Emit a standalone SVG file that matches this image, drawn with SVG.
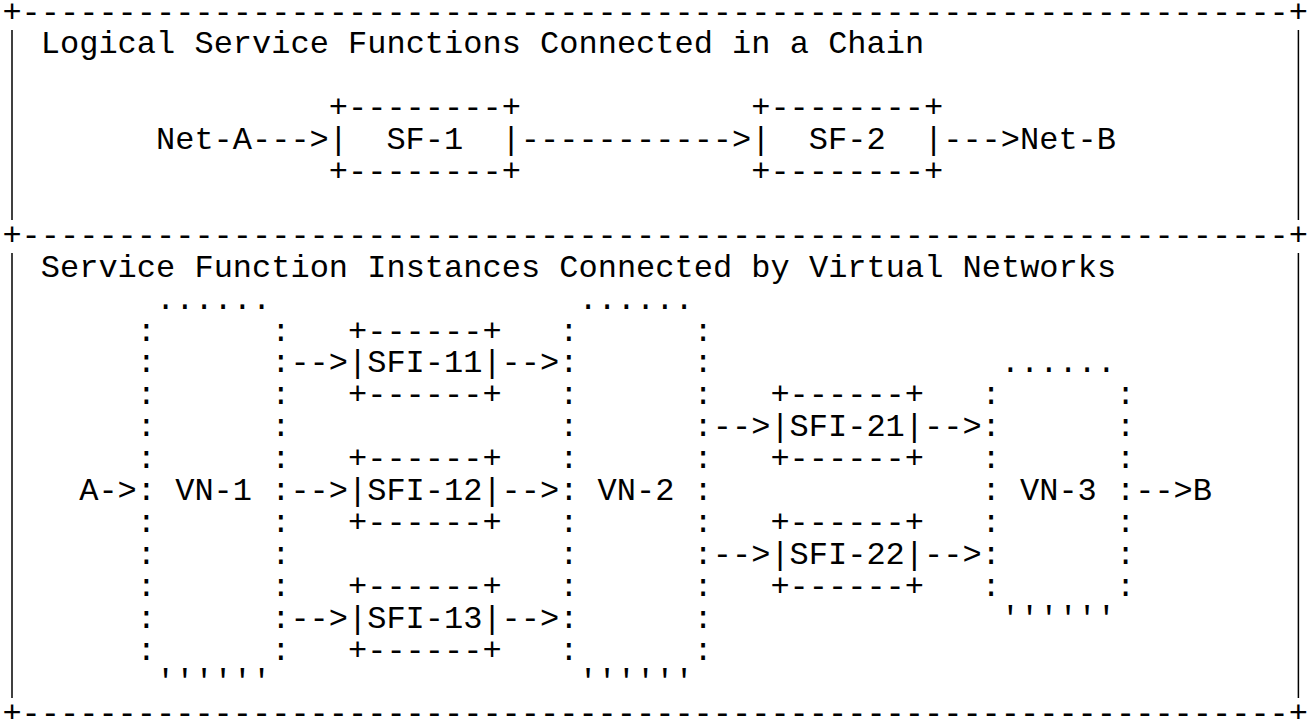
<svg xmlns="http://www.w3.org/2000/svg" width="1307" height="719" viewBox="0 0 1307 719">
<style>
.t{font-family:"Courier New",Courier,"Nimbus Mono PS","FreeMono","Liberation Mono",monospace;font-size:32px;fill:#000}
.edge{stroke:#000;stroke-width:1.5;fill:none}
</style>
<rect width="1307" height="719" fill="#fff"/>
<g id="frame">
<text class="t" x="2.4" y="21.5">+</text>
<text class="t" x="21.6" y="21.5" textLength="1267.2" lengthAdjust="spacing">------------------------------------------------------------------</text>
<text class="t" x="1288.8" y="21.5">+</text>
<text class="t" x="2.4" y="244.8">+</text>
<text class="t" x="21.6" y="244.8" textLength="1267.2" lengthAdjust="spacing">------------------------------------------------------------------</text>
<text class="t" x="1288.8" y="244.8">+</text>
<text class="t" x="2.4" y="723.3">+</text>
<text class="t" x="21.6" y="723.3" textLength="1267.2" lengthAdjust="spacing">------------------------------------------------------------------</text>
<text class="t" x="1288.8" y="723.3">+</text>
<line class="edge" x1="12" y1="30" x2="12" y2="220"/>
<line class="edge" x1="1298.4" y1="30" x2="1298.4" y2="220"/>
<line class="edge" x1="12" y1="253" x2="12" y2="698"/>
<line class="edge" x1="1298.4" y1="253" x2="1298.4" y2="698"/>
<text class="t" x="40.8" y="53.4">Logical Service Functions Connected in a Chain</text>
<text class="t" x="40.8" y="276.7">Service Function Instances Connected by Virtual Networks</text>
</g>
<g id="endpoints">
<text class="t" x="156" y="149.1">Net-A</text>
<text class="t" x="1020" y="149.1">Net-B</text>
<text class="t" x="79.2" y="500">A</text>
<text class="t" x="1192.8" y="500">B</text>
</g>
<g id="sf1">
<text class="t" x="328.8" y="117.2">+--------+</text>
<text class="t" x="328.8" y="149.1">|</text>
<text class="t" x="386.4" y="149.1">SF-1</text>
<text class="t" x="501.6" y="149.1">|</text>
<text class="t" x="328.8" y="181">+--------+</text>
</g>
<g id="sf2">
<text class="t" x="751.2" y="117.2">+--------+</text>
<text class="t" x="751.2" y="149.1">|</text>
<text class="t" x="808.8" y="149.1">SF-2</text>
<text class="t" x="924" y="149.1">|</text>
<text class="t" x="751.2" y="181">+--------+</text>
</g>
<g id="vn1">
<text class="t" x="156" y="308.6">......</text>
<text class="t"><tspan x="136.8" y="340.5">:</tspan><tspan x="136.8" y="372.4">:</tspan><tspan x="136.8" y="404.3">:</tspan><tspan x="136.8" y="436.2">:</tspan><tspan x="136.8" y="468.1">:</tspan><tspan x="136.8" y="500">:</tspan><tspan x="136.8" y="531.9">:</tspan><tspan x="136.8" y="563.8">:</tspan><tspan x="136.8" y="595.7">:</tspan><tspan x="136.8" y="627.6">:</tspan><tspan x="136.8" y="659.5">:</tspan></text>
<text class="t"><tspan x="271.2" y="340.5">:</tspan><tspan x="271.2" y="372.4">:</tspan><tspan x="271.2" y="404.3">:</tspan><tspan x="271.2" y="436.2">:</tspan><tspan x="271.2" y="468.1">:</tspan><tspan x="271.2" y="500">:</tspan><tspan x="271.2" y="531.9">:</tspan><tspan x="271.2" y="563.8">:</tspan><tspan x="271.2" y="595.7">:</tspan><tspan x="271.2" y="627.6">:</tspan><tspan x="271.2" y="659.5">:</tspan></text>
<text class="t" x="175.2" y="500">VN-1</text>
<text class="t" x="156" y="691.4">''''''</text>
</g>
<g id="vn2">
<text class="t" x="578.4" y="308.6">......</text>
<text class="t"><tspan x="559.2" y="340.5">:</tspan><tspan x="559.2" y="372.4">:</tspan><tspan x="559.2" y="404.3">:</tspan><tspan x="559.2" y="436.2">:</tspan><tspan x="559.2" y="468.1">:</tspan><tspan x="559.2" y="500">:</tspan><tspan x="559.2" y="531.9">:</tspan><tspan x="559.2" y="563.8">:</tspan><tspan x="559.2" y="595.7">:</tspan><tspan x="559.2" y="627.6">:</tspan><tspan x="559.2" y="659.5">:</tspan></text>
<text class="t"><tspan x="693.6" y="340.5">:</tspan><tspan x="693.6" y="372.4">:</tspan><tspan x="693.6" y="404.3">:</tspan><tspan x="693.6" y="436.2">:</tspan><tspan x="693.6" y="468.1">:</tspan><tspan x="693.6" y="500">:</tspan><tspan x="693.6" y="531.9">:</tspan><tspan x="693.6" y="563.8">:</tspan><tspan x="693.6" y="595.7">:</tspan><tspan x="693.6" y="627.6">:</tspan><tspan x="693.6" y="659.5">:</tspan></text>
<text class="t" x="597.6" y="500">VN-2</text>
<text class="t" x="578.4" y="691.4">''''''</text>
</g>
<g id="vn3">
<text class="t" x="1000.8" y="372.4">......</text>
<text class="t"><tspan x="981.6" y="404.3">:</tspan><tspan x="981.6" y="436.2">:</tspan><tspan x="981.6" y="468.1">:</tspan><tspan x="981.6" y="500">:</tspan><tspan x="981.6" y="531.9">:</tspan><tspan x="981.6" y="563.8">:</tspan><tspan x="981.6" y="595.7">:</tspan></text>
<text class="t"><tspan x="1116" y="404.3">:</tspan><tspan x="1116" y="436.2">:</tspan><tspan x="1116" y="468.1">:</tspan><tspan x="1116" y="500">:</tspan><tspan x="1116" y="531.9">:</tspan><tspan x="1116" y="563.8">:</tspan><tspan x="1116" y="595.7">:</tspan></text>
<text class="t" x="1020" y="500">VN-3</text>
<text class="t" x="1000.8" y="627.6">''''''</text>
</g>
<g id="sfi11">
<text class="t" x="348" y="340.5">+------+</text>
<text class="t" x="348" y="372.4">|SFI-11|</text>
<text class="t" x="348" y="404.3">+------+</text>
</g>
<g id="sfi12">
<text class="t" x="348" y="468.1">+------+</text>
<text class="t" x="348" y="500">|SFI-12|</text>
<text class="t" x="348" y="531.9">+------+</text>
</g>
<g id="sfi13">
<text class="t" x="348" y="595.7">+------+</text>
<text class="t" x="348" y="627.6">|SFI-13|</text>
<text class="t" x="348" y="659.5">+------+</text>
</g>
<g id="sfi21">
<text class="t" x="770.4" y="404.3">+------+</text>
<text class="t" x="770.4" y="436.2">|SFI-21|</text>
<text class="t" x="770.4" y="468.1">+------+</text>
</g>
<g id="sfi22">
<text class="t" x="770.4" y="531.9">+------+</text>
<text class="t" x="770.4" y="563.8">|SFI-22|</text>
<text class="t" x="770.4" y="595.7">+------+</text>
</g>
<g id="connectors">
<text class="t" x="252" y="149.1">---&gt;</text>
<text class="t" x="520.8" y="149.1">-----------&gt;</text>
<text class="t" x="943.2" y="149.1">---&gt;</text>
<text class="t" x="98.4" y="500">-&gt;</text>
<text class="t" x="290.4" y="372.4">--&gt;</text>
<text class="t" x="501.6" y="372.4">--&gt;</text>
<text class="t" x="290.4" y="500">--&gt;</text>
<text class="t" x="501.6" y="500">--&gt;</text>
<text class="t" x="290.4" y="627.6">--&gt;</text>
<text class="t" x="501.6" y="627.6">--&gt;</text>
<text class="t" x="712.8" y="436.2">--&gt;</text>
<text class="t" x="924" y="436.2">--&gt;</text>
<text class="t" x="712.8" y="563.8">--&gt;</text>
<text class="t" x="924" y="563.8">--&gt;</text>
<text class="t" x="1135.2" y="500">--&gt;</text>
</g>
</svg>
